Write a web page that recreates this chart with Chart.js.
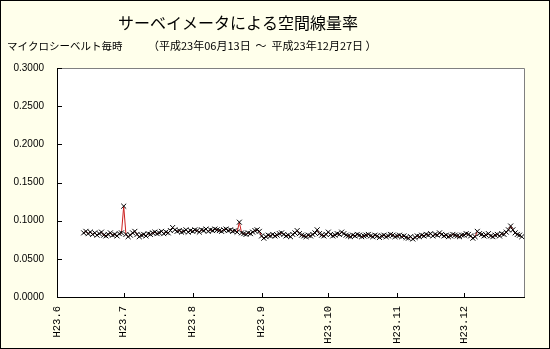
<!DOCTYPE html>
<html><head><meta charset="utf-8">
<script src="https://cdn.jsdelivr.net/npm/chart.js@4/dist/chart.umd.min.js"></script>
<style>
html,body{margin:0;padding:0;background:#FFFFEB;}
canvas{display:block;}
</style></head><body>
<canvas id="c" width="550" height="349"></canvas>
<script>
const titleText = 'サーベイメータによる空間線量率';
const unitText = 'マイクロシーベルト毎時';
const periodText = '（平成23年06月13日  ～  平成23年12月27日 ）';

// x axis: days counted from 2011-06-01 (day 0)
const monthTicks = [0, 30, 61, 92, 122, 153, 183];
const tickLabels = ['H23.6', 'H23.7', 'H23.8', 'H23.9', 'H23.10', 'H23.11', 'H23.12'];
const xMax = 210;
const yTicks = [0, 0.05, 0.10, 0.15, 0.20, 0.25, 0.30];

// daily readings (µSv/h), first reading 2011-06-13 (day 12)
const startDay = 12;
const jun = [0.084,0.086,0.083,0.085,0.082,0.084,0.081,0.083,0.085,0.081,0.080,0.082,0.084,0.081,0.082,0.080,0.083,0.084];
const jul = [0.119,0.082,0.079,0.081,0.084,0.086,0.082,0.079,0.081,0.082,0.080,0.083,0.082,0.084,0.085,0.083,0.084,0.086,0.083,0.085,0.084,0.087,0.091,0.088,0.086,0.087,0.085,0.086,0.088,0.085,0.087];
const aug = [0.086,0.088,0.087,0.085,0.088,0.087,0.089,0.086,0.088,0.087,0.089,0.088,0.087,0.086,0.088,0.089,0.087,0.088,0.086,0.087,0.085,0.098,0.084,0.083,0.082,0.084,0.083,0.085,0.087,0.088,0.086];
const sep = [0.080,0.077,0.079,0.081,0.080,0.082,0.080,0.081,0.083,0.084,0.082,0.080,0.081,0.079,0.082,0.084,0.087,0.083,0.081,0.080,0.079,0.081,0.080,0.082,0.084,0.088,0.083,0.081,0.080,0.082];
const oct = [0.085,0.082,0.080,0.081,0.083,0.082,0.085,0.083,0.081,0.080,0.079,0.081,0.080,0.082,0.081,0.079,0.080,0.081,0.082,0.080,0.079,0.081,0.080,0.078,0.080,0.081,0.079,0.080,0.082,0.081,0.079];
const nov = [0.080,0.081,0.079,0.080,0.078,0.077,0.079,0.076,0.078,0.080,0.079,0.081,0.080,0.082,0.081,0.083,0.080,0.082,0.081,0.084,0.082,0.080,0.081,0.079,0.080,0.082,0.081,0.080,0.079,0.081];
const dec = [0.081,0.083,0.082,0.080,0.077,0.079,0.086,0.083,0.082,0.080,0.081,0.083,0.080,0.079,0.081,0.082,0.080,0.083,0.082,0.085,0.088,0.093,0.088,0.084,0.082,0.081,0.079];

const allValues = [].concat(jun, jul, aug, sep, oct, nov, dec);
const points = allValues.map((v, i) => ({x: startDay + i, y: v}));

const AREA = {left: 57, right: 524, top: 68, bottom: 297};

const decor = {
  id: 'decor',
  beforeDraw(chart) {
    const ctx = chart.ctx, a = chart.chartArea;
    ctx.save();
    ctx.fillStyle = '#FFFFEB';
    ctx.fillRect(0, 0, chart.width, chart.height);
    ctx.fillStyle = '#FFFFFF';
    ctx.fillRect(a.left, a.top, a.right - a.left, a.bottom - a.top);
    ctx.restore();
  },
  afterDraw(chart) {
    const ctx = chart.ctx, a = chart.chartArea;
    const xs = chart.scales.x, ys = chart.scales.y;
    ctx.save();
    ctx.strokeStyle = '#808080';
    ctx.lineWidth = 1;
    ctx.beginPath();
    ctx.moveTo(a.left, a.top + 0.5); ctx.lineTo(a.right + 0.5, a.top + 0.5);
    ctx.lineTo(a.right + 0.5, a.bottom);
    ctx.stroke();
    ctx.strokeStyle = '#000000';
    ctx.beginPath();
    yTicks.forEach(v => {
      const y = Math.round(ys.getPixelForValue(v)) + 0.5;
      ctx.moveTo(a.left, y); ctx.lineTo(a.left + 5, y);
    });
    monthTicks.forEach(v => {
      const x = Math.round(xs.getPixelForValue(v)) + 0.5;
      ctx.moveTo(x, a.bottom); ctx.lineTo(x, a.bottom - 4);
    });
    ctx.stroke();
    ctx.fillStyle = '#000000';
    ctx.textBaseline = 'middle';
    ctx.font = '16px "Noto Sans CJK JP"';
    ctx.textAlign = 'center';
    ctx.fillText(titleText, 238, 23);
    ctx.font = '10.5px "Noto Sans CJK JP"';
    ctx.textAlign = 'left';
    ctx.fillText(unitText, 7, 46);
    ctx.font = '11px "Noto Sans CJK JP"';
    ctx.fillText(periodText, 148, 46);
    ctx.strokeStyle = '#000000';
    ctx.strokeRect(0.5, 0.5, chart.width - 1, chart.height - 1);
    ctx.restore();
  }
};

new Chart(document.getElementById('c'), {
  type: 'line',
  data: {
    datasets: [{
      data: points,
      borderColor: '#CC1F1F',
      borderWidth: 1,
      tension: 0,
      pointStyle: 'crossRot',
      pointRadius: 3.5,
      pointBorderColor: '#000000',
      pointBackgroundColor: '#000000',
      pointBorderWidth: 1
    }]
  },
  options: {
    responsive: false,
    animation: false,
    layout: {padding: {left: 0, right: 550 - AREA.right, top: AREA.top, bottom: 0}},
    plugins: {legend: {display: false}, tooltip: {enabled: false}, title: {display: false}},
    scales: {
      x: {
        type: 'linear',
        min: 0, max: xMax,
        afterBuildTicks(s) { s.ticks = monthTicks.map(v => ({value: v})); },
        afterFit(s) { s.height = 349 - AREA.bottom; },
        grid: {display: false, drawTicks: false},
        border: {display: true, color: '#000000', width: 1},
        ticks: {
          autoSkip: false, minRotation: 90, maxRotation: 90, padding: 9,
          color: '#000000',
          font: {family: '"Liberation Mono"', size: 10.5},
          callback(v) { const i = monthTicks.indexOf(v); return i >= 0 ? tickLabels[i] : ''; }
        }
      },
      y: {
        min: 0, max: 0.3,
        afterBuildTicks(s) { s.ticks = yTicks.map(v => ({value: v})); },
        afterFit(s) { s.width = AREA.left; },
        grid: {display: false, drawTicks: false},
        border: {display: true, color: '#000000', width: 1},
        ticks: {
          padding: 13, color: '#000000',
          font: {family: '"Liberation Sans"', size: 10},
          callback(v) { return v.toFixed(4); }
        }
      }
    }
  },
  plugins: [decor]
});
</script>
</body></html>
